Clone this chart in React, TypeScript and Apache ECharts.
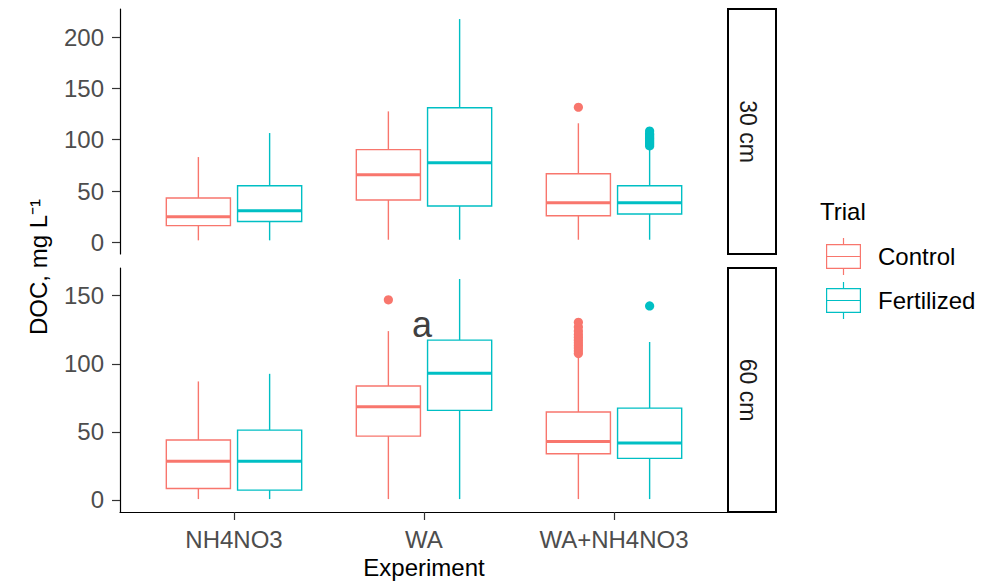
import React, { useEffect, useRef } from "react";
import * as echarts from "echarts";

// ---------- data ----------
const CATEGORIES = ["NH4NO3", "WA", "WA+NH4NO3"];
const TRIALS = ["Control", "Fertilized"];
const DEPTHS = ["30 cm", "60 cm"];
const Y_TICKS_30 = [0, 50, 100, 150, 200];
const Y_TICKS_60 = [0, 50, 100, 150];

// [lower whisker, Q1, median, Q3, upper whisker] per category
const CONTROL_30 = [
  [2, 16.3, 25, 43.2, 83.1],
  [2.6, 41.3, 65.9, 90.3, 127.6],
  [2.6, 26, 38.5, 66.9, 116],
];
const FERTILIZED_30 = [
  [2, 20.4, 30.9, 55.2, 106.5],
  [2.6, 35.4, 77.6, 131.2, 217.5],
  [2.6, 27.6, 38.7, 55.2, 92],
];
const CONTROL_60 = [
  [0.5, 8.3, 28.4, 43.9, 87],
  [0.5, 46.8, 68.4, 83.6, 124],
  [0.5, 33.8, 42.9, 64.5, 105],
];
const FERTILIZED_60 = [
  [0.5, 7.1, 28.4, 51.2, 92.6],
  [0.5, 65.7, 93.1, 117.4, 162.3],
  [0.5, 30.4, 41.7, 67.4, 116],
];

// outliers: [category, value]
const CONTROL_30_OUT: [string, number][] = [["WA+NH4NO3", 131.6]];
const FERTILIZED_30_OUT: [string, number][] = [
  ["WA+NH4NO3", 94], ["WA+NH4NO3", 95.5], ["WA+NH4NO3", 97], ["WA+NH4NO3", 98.5],
  ["WA+NH4NO3", 100], ["WA+NH4NO3", 101.5], ["WA+NH4NO3", 103], ["WA+NH4NO3", 104.5],
  ["WA+NH4NO3", 106], ["WA+NH4NO3", 108.5],
];
const CONTROL_60_OUT: [string, number][] = [
  ["WA", 147],
  ["WA+NH4NO3", 107.5], ["WA+NH4NO3", 109.5], ["WA+NH4NO3", 111.5], ["WA+NH4NO3", 113.5],
  ["WA+NH4NO3", 115.5], ["WA+NH4NO3", 117.5], ["WA+NH4NO3", 119.5], ["WA+NH4NO3", 121.5],
  ["WA+NH4NO3", 124], ["WA+NH4NO3", 127], ["WA+NH4NO3", 130.5],
];
const FERTILIZED_60_OUT: [string, number][] = [["WA+NH4NO3", 142.5]];

// ---------- styles ----------
const COLORS = ["#F8766D", "#00BFC4"];
const OFFSETS = [-0.1875, 0.1875];
const BOX_W = 0.3375;
const FONT = "'Liberation Sans', Arial, sans-serif";
const KEY_ICON =
  "path://M0 6 L35 6 L35 31 L0 31 Z M1.2 7.2 L1.2 29.8 L33.8 29.8 L33.8 7.2 Z " +
  "M1.2 17.9 L33.8 17.9 L33.8 19.1 L1.2 19.1 Z M16.9 0 L18.1 0 L18.1 6 L16.9 6 Z " +
  "M16.9 31 L18.1 31 L18.1 37 L16.9 37 Z";

const GRID_LEFT = 120;
const GRID_RIGHT = 275;
const GRIDS = [
  { top: 9, height: 245 },
  { top: 268, height: 244 },
];

function boxRenderer(offset: number, color: string) {
  return (params: any, api: any) => {
    const x = api.value(0) + offset;
    const lo = api.coord([x, api.value(1)]);
    const q1 = api.coord([x, api.value(2)]);
    const md = api.coord([x, api.value(3)]);
    const q3 = api.coord([x, api.value(4)]);
    const hi = api.coord([x, api.value(5)]);
    const half = api.size([BOX_W, 0])[0] / 2;
    return {
      type: "group",
      children: [
        { type: "line", shape: { x1: lo[0], y1: lo[1], x2: q1[0], y2: q1[1] }, style: { stroke: color, lineWidth: 1.4 } },
        { type: "line", shape: { x1: q3[0], y1: q3[1], x2: hi[0], y2: hi[1] }, style: { stroke: color, lineWidth: 1.4 } },
        {
          type: "rect",
          shape: { x: q3[0] - half, y: q3[1], width: half * 2, height: q1[1] - q3[1] },
          style: { fill: "#ffffff", stroke: color, lineWidth: 1.4 },
        },
        { type: "line", shape: { x1: md[0] - half, y1: md[1], x2: md[0] + half, y2: md[1] }, style: { stroke: color, lineWidth: 3 } },
      ],
    };
  };
}

function outlierRenderer(offset: number, color: string) {
  return (params: any, api: any) => {
    const p = api.coord([api.value(0) + offset, api.value(1)]);
    return { type: "circle", shape: { cx: p[0], cy: p[1], r: 4.6 }, style: { fill: color } };
  };
}

export default function App() {
  const ref = useRef<HTMLDivElement>(null);

  useEffect(() => {
    if (!ref.current) return;
    const chart = echarts.init(ref.current, null, { renderer: "svg" });

    const boxes = [
      [CONTROL_30, FERTILIZED_30],
      [CONTROL_60, FERTILIZED_60],
    ];
    const outs = [
      [CONTROL_30_OUT, FERTILIZED_30_OUT],
      [CONTROL_60_OUT, FERTILIZED_60_OUT],
    ];

    const series: any[] = [];
    for (let p = 0; p < 2; p++) {
      for (let t = 0; t < 2; t++) {
        series.push({
          type: "custom",
          name: TRIALS[t],
          xAxisIndex: p,
          yAxisIndex: p,
          itemStyle: { color: COLORS[t] },
          renderItem: boxRenderer(OFFSETS[t], COLORS[t]),
          encode: { x: 0, y: [1, 2, 3, 4, 5] },
          data: boxes[p][t].map((b, i) => [i + 1, ...b]),
          z: 2,
        });
        series.push({
          type: "custom",
          name: TRIALS[t],
          xAxisIndex: p,
          yAxisIndex: p,
          itemStyle: { color: COLORS[t] },
          renderItem: outlierRenderer(OFFSETS[t], COLORS[t]),
          encode: { x: 0, y: 1 },
          data: outs[p][t].map(([c, v]) => [CATEGORIES.indexOf(c) + 1, v]),
          z: 3,
        });
      }
    }

    const yRanges = [
      { min: -11.3, max: 227.3, ticks: Y_TICKS_30 },
      { min: -9, max: 170.4, ticks: Y_TICKS_60 },
    ];

    const tickLabelStyle = { color: "#4D4D4D", fontSize: 24, fontFamily: FONT };

    const option: any = {
      animation: false,
      backgroundColor: "#ffffff",
      title: {
        text: "Trial",
        left: 820,
        top: 199,
        padding: 0,
        textStyle: { fontSize: 24, fontWeight: "normal", color: "#000000", fontFamily: FONT },
      },
      legend: {
        orient: "vertical",
        left: 826,
        top: 238,
        padding: 0,
        itemWidth: 35,
        itemHeight: 37,
        itemGap: 7,
        selectedMode: false,
        itemStyle: { borderWidth: 0 },
        textStyle: { fontSize: 24, color: "#000000", fontFamily: FONT, padding: [0, 0, 0, 12] },
        data: TRIALS.map((n, i) => ({ name: n, icon: KEY_ICON, itemStyle: { color: COLORS[i] } })),
      },
      grid: GRIDS.map((g) => ({
        left: GRID_LEFT,
        right: GRID_RIGHT,
        top: g.top,
        height: g.height,
        containLabel: false,
      })),
      xAxis: [0, 1].map((p) => ({
        type: "value",
        gridIndex: p,
        min: 0.4,
        max: 3.6,
        show: p === 1,
        splitLine: { show: false },
        axisLine: { show: true, onZero: false, lineStyle: { color: "#000000", width: 1.2 } },
        axisTick: { show: true, length: 8, customValues: [1, 2, 3], lineStyle: { color: "#333333", width: 1.2 } },
        axisLabel: {
          ...tickLabelStyle,
          margin: 15,
          customValues: [1, 2, 3],
          formatter: (v: number) => CATEGORIES[Math.round(v) - 1] ?? "",
        },
        name: p === 1 ? "Experiment" : "",
        nameLocation: "middle",
        nameGap: 43,
        nameTextStyle: { fontSize: 24, color: "#000000", fontFamily: FONT },
      })),
      yAxis: [0, 1].map((p) => ({
        type: "value",
        gridIndex: p,
        min: yRanges[p].min,
        max: yRanges[p].max,
        splitLine: { show: false },
        axisLine: { show: true, onZero: false, lineStyle: { color: "#000000", width: 1.2 } },
        axisTick: { show: true, length: 8, customValues: yRanges[p].ticks, lineStyle: { color: "#333333", width: 1.2 } },
        axisLabel: { ...tickLabelStyle, margin: 16, customValues: yRanges[p].ticks },
      })),
      graphic: [
        ...GRIDS.map((g) => ({
          type: "rect",
          shape: { x: 1003 - GRID_RIGHT, y: g.top, width: 48, height: g.height },
          style: { fill: "#ffffff", stroke: "#000000", lineWidth: 2 },
          z: 10,
        })),
        ...GRIDS.map((g, i) => ({
          type: "text",
          x: 1003 - GRID_RIGHT + 20,
          y: g.top + g.height / 2,
          rotation: -Math.PI / 2,
          style: {
            text: DEPTHS[i],
            fill: "#1A1A1A",
            fontSize: 23,
            fontFamily: FONT,
            align: "center",
            verticalAlign: "middle",
          },
          z: 11,
        })),
        {
          type: "text",
          x: 38,
          y: 267,
          rotation: Math.PI / 2,
          style: {
            text: "DOC, mg L⁻¹",
            fill: "#000000",
            fontSize: 24,
            fontFamily: FONT,
            align: "center",
            verticalAlign: "middle",
          },
        },
        {
          type: "text",
          x: 422,
          y: 324,
          style: {
            text: "a",
            fill: "#404040",
            fontSize: 36,
            fontFamily: FONT,
            align: "center",
            verticalAlign: "middle",
          },
          z: 12,
        },
      ],
      series,
    };

    chart.setOption(option);
    return () => chart.dispose();
  }, []);

  return (
    <div
      ref={ref}
      style={{ position: "fixed", left: 0, top: 0, width: 1003, height: 583, background: "#fff" }}
    />
  );
}
